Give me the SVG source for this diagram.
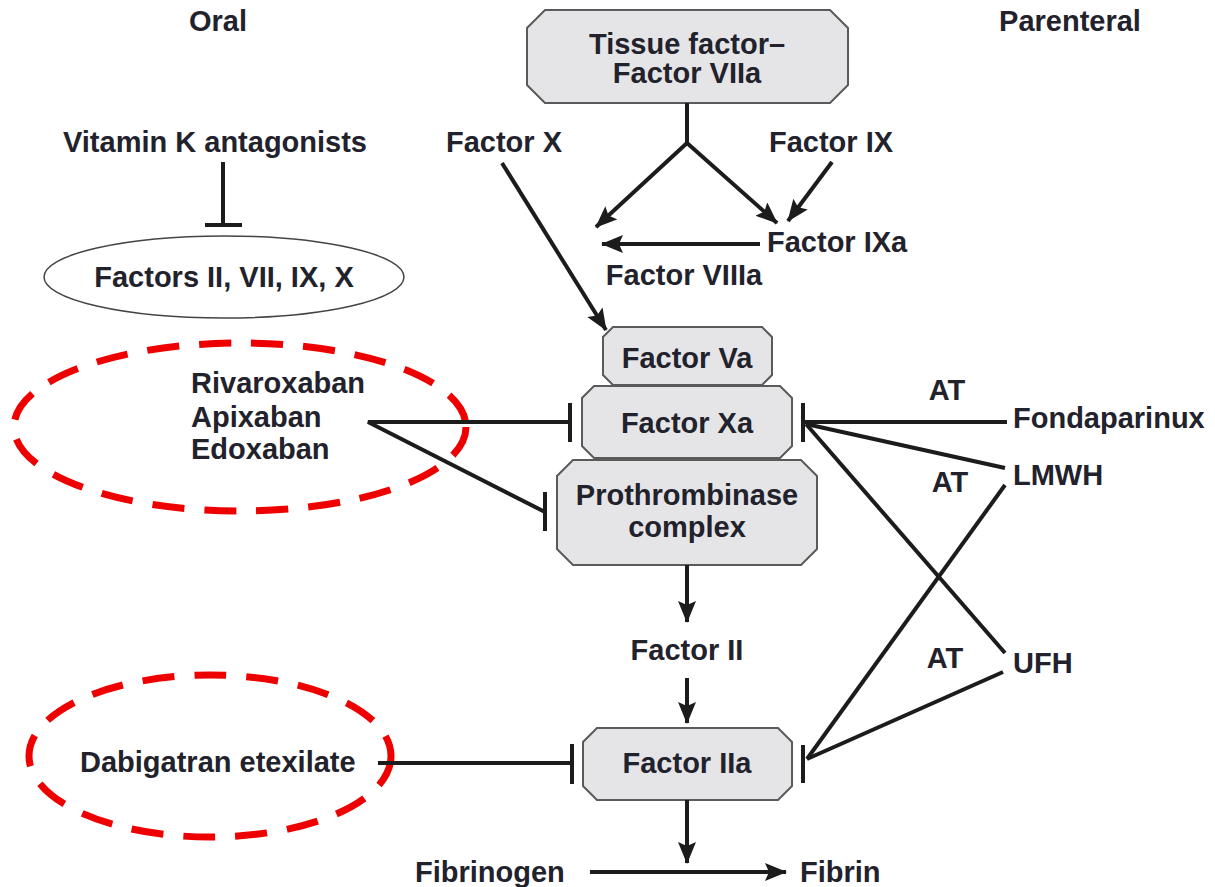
<svg xmlns="http://www.w3.org/2000/svg" width="1215" height="887" viewBox="0 0 1215 887">
  <style>
    text { font-family: "Liberation Sans", Arial, sans-serif; font-weight: bold; font-size: 29px; fill: #22222c; }
    .c { text-anchor: middle; }
    .box { fill: #e5e5e7; stroke: #5a5a5a; stroke-width: 2; }
    .ln { fill: none; stroke: #1c1c1c; stroke-width: 4; }
    .arr { fill: none; stroke: #1c1c1c; stroke-width: 4; marker-end: url(#ah); }
    .ring { fill: none; stroke: #ee0000; stroke-width: 7; stroke-dasharray: 32 20; }
  </style>
  <defs>
    <marker id="ah" markerUnits="userSpaceOnUse" markerWidth="24" markerHeight="20" refX="21" refY="9" orient="auto">
      <path d="M0,0 L22,9 L0,18 L4,9 Z" fill="#1c1c1c"/>
    </marker>
  </defs>
  <rect width="1215" height="887" fill="#fff"/>

  <!-- column headings -->
  <text class="c" x="218" y="31">Oral</text>
  <text class="c" x="1070" y="31">Parenteral</text>

  <!-- cascade nodes -->
  <g id="tf-viia">
    <path class="box" d="M545,10 H830 L848,28 V85 L830,103 H545 L527,85 V28 Z"/>
    <text class="c" x="687" y="54">Tissue factor–</text>
    <text class="c" x="687" y="83">Factor VIIa</text>
  </g>
  <g id="factor-x"><text class="c" x="504" y="152">Factor X</text></g>
  <g id="factor-ix"><text class="c" x="831" y="152">Factor IX</text></g>
  <g id="factor-ixa"><text x="767" y="252">Factor IXa</text></g>
  <g id="factor-viiia"><text class="c" x="684" y="285">Factor VIIIa</text></g>
  <g id="factor-va">
    <path class="box" d="M613,327 H762 L772,337 V375 L762,385 H613 L603,375 V337 Z"/>
    <text class="c" x="687" y="368">Factor Va</text>
  </g>
  <g id="factor-xa">
    <path class="box" d="M594,386 H780 L792,398 V446 L780,458 H594 L582,446 V398 Z"/>
    <text class="c" x="687" y="433">Factor Xa</text>
  </g>
  <g id="prothrombinase">
    <path class="box" d="M573,460 H801 L817,476 V549 L801,565 H573 L557,549 V476 Z"/>
    <text class="c" x="687" y="505">Prothrombinase</text>
    <text class="c" x="687" y="537">complex</text>
  </g>
  <g id="factor-ii"><text class="c" x="687" y="660">Factor II</text></g>
  <g id="factor-iia">
    <path class="box" d="M597,728 H778 L792,742 V786 L778,800 H597 L583,786 V742 Z"/>
    <text class="c" x="687" y="773">Factor IIa</text>
  </g>
  <g id="fibrinogen"><text x="415" y="882">Fibrinogen</text></g>
  <g id="fibrin"><text x="800" y="882">Fibrin</text></g>

  <!-- oral agents -->
  <g id="vka"><text class="c" x="215" y="152">Vitamin K antagonists</text></g>
  <g id="vk-factors">
    <ellipse cx="224" cy="277" rx="180" ry="41" fill="#fff" stroke="#444" stroke-width="1.5"/>
    <text class="c" x="224" y="287">Factors II, VII, IX, X</text>
  </g>
  <g id="xa-inhibitors">
    <ellipse class="ring" cx="240" cy="427" rx="226" ry="84"/>
    <text x="191" y="393">Rivaroxaban</text>
    <text x="191" y="427">Apixaban</text>
    <text x="191" y="459">Edoxaban</text>
  </g>
  <g id="dabigatran">
    <ellipse class="ring" cx="210" cy="756" rx="181" ry="81"/>
    <text x="80" y="772">Dabigatran etexilate</text>
  </g>

  <!-- parenteral agents -->
  <g id="fondaparinux"><text x="1013" y="428">Fondaparinux</text></g>
  <g id="lmwh"><text x="1013" y="485">LMWH</text></g>
  <g id="ufh"><text x="1013" y="673">UFH</text></g>
  <g id="at-labels">
    <text class="c" x="947" y="400">AT</text>
    <text class="c" x="950" y="492">AT</text>
    <text class="c" x="945" y="668">AT</text>
  </g>

  <!-- connectors -->
  <g id="connectors">
    <!-- TF-VIIa branching -->
    <polyline class="ln" points="687,103 687,143"/>
    <line class="arr" x1="687" y1="143" x2="596" y2="227"/>
    <line class="arr" x1="687" y1="143" x2="777" y2="223"/>
    <line class="arr" x1="832" y1="162" x2="788" y2="221"/>
    <line class="arr" x1="760" y1="244" x2="602" y2="244"/>
    <line class="arr" x1="502" y1="163" x2="606" y2="330"/>

    <!-- main sequence -->
    <line class="arr" x1="687" y1="565" x2="687" y2="622"/>
    <line class="arr" x1="687" y1="678" x2="687" y2="723"/>
    <line class="arr" x1="687" y1="800" x2="687" y2="863"/>
    <line class="arr" x1="590" y1="872" x2="786" y2="872"/>

    <!-- vitamin K antagonist inhibition -->
    <line class="ln" x1="223" y1="162" x2="223" y2="225"/>
    <line class="ln" x1="205" y1="225" x2="242" y2="225"/>

    <!-- direct Xa inhibitors -->
    <polyline class="ln" points="570,422 368,422 545,512"/>
    <line class="ln" x1="570" y1="403" x2="570" y2="442"/>
    <line class="ln" x1="545" y1="492" x2="545" y2="531"/>

    <!-- direct thrombin inhibitor -->
    <line class="ln" x1="378" y1="763" x2="572" y2="763"/>
    <line class="ln" x1="572" y1="744" x2="572" y2="784"/>

    <!-- heparins on Xa -->
    <line class="ln" x1="803" y1="403" x2="803" y2="442"/>
    <line class="ln" x1="1007" y1="422" x2="805" y2="422"/>
    <line class="ln" x1="1005" y1="468" x2="806" y2="424"/>
    <line class="ln" x1="1005" y1="653" x2="806" y2="424"/>

    <!-- heparins on IIa -->
    <line class="ln" x1="803" y1="745" x2="803" y2="783"/>
    <line class="ln" x1="1005" y1="485" x2="807" y2="759"/>
    <line class="ln" x1="1003" y1="672" x2="807" y2="759"/>
  </g>
</svg>
